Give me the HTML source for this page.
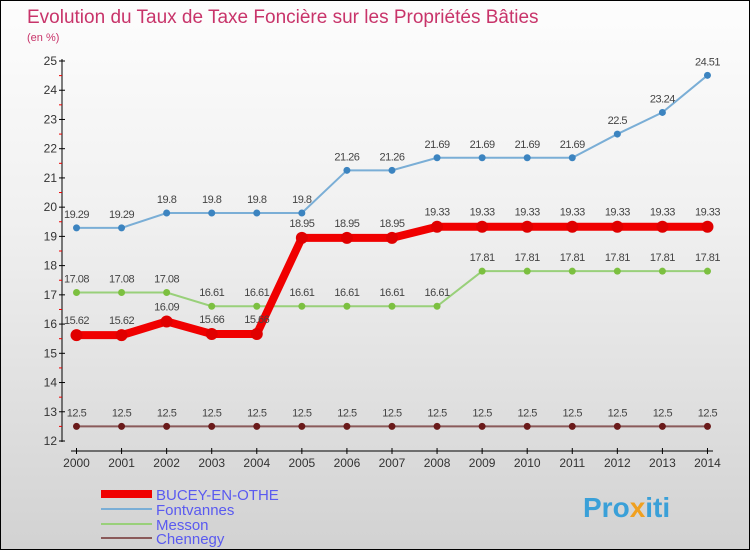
<!DOCTYPE html>
<html><head><meta charset="utf-8"><style>
body{margin:0}
#wrap{width:750px;height:550px;position:relative;box-sizing:border-box;border:1px solid #000;background:linear-gradient(#fdfdfd,#f0f0f0 40%,#d2d2d2);font-family:"Liberation Sans",sans-serif;overflow:hidden}
svg{position:absolute;left:0;top:0}
</style></head><body>
<div id="wrap">
<svg id="s" width="750" height="550">
<text x="26" y="22" font-size="19" fill="#c8346a">Evolution du Taux de Taxe Foncière sur les Propriétés Bâties</text>
<text x="26" y="40" font-size="11" fill="#c8346a">(en %)</text>
<text x="582" y="516" font-size="28" font-weight="bold" fill="#3aa0d8">Pro<tspan fill="#f0a020">x</tspan>iti</text>
</svg>
</div>
<script>
const years=[2000,2001,2002,2003,2004,2005,2006,2007,2008,2009,2010,2011,2012,2013,2014];
const bucey=[15.62,15.62,16.09,15.66,15.66,18.95,18.95,18.95,19.33,19.33,19.33,19.33,19.33,19.33,19.33];
const fontvannes=[19.29,19.29,19.8,19.8,19.8,19.8,21.26,21.26,21.69,21.69,21.69,21.69,22.5,23.24,24.51];
const messon=[17.08,17.08,17.08,16.61,16.61,16.61,16.61,16.61,16.61,17.81,17.81,17.81,17.81,17.81,17.81];
const chennegy=[12.5,12.5,12.5,12.5,12.5,12.5,12.5,12.5,12.5,12.5,12.5,12.5,12.5,12.5,12.5];
const yTicks=[12,13,14,15,16,17,18,19,20,21,22,23,24,25];
const names=["BUCEY-EN-OTHE","Fontvannes","Messon","Chennegy"];
const NS="http://www.w3.org/2000/svg",s=document.getElementById('s');
const X=i=>75.5+i*45.07, Y=v=>440-(v-12)*(380/13);
function mk(t,a,p){const e=document.createElementNS(NS,t);for(const k in a)e.setAttribute(k,a[k]);(p||s).appendChild(e);return e;}
// y axis
let ax=mk('line',{x1:61,y1:58,x2:61,y2:441,stroke:'#000'});


yTicks.forEach(v=>{mk('line',{x1:58,x2:64,y1:Y(v),y2:Y(v),stroke:'#000'});
 if(v<25)mk('line',{x1:58,x2:61,y1:Y(v+0.5),y2:Y(v+0.5),stroke:'#e00'});
 const t=mk('text',{x:56,y:Y(v)+4,'font-size':12,fill:'#333','text-anchor':'end'});t.textContent=v;
 
 });
let xa=mk('line',{x1:70,y1:450,x2:712,y2:450,stroke:'#000'});


years.forEach((y,i)=>{mk('line',{x1:X(i),x2:X(i),y1:447,y2:453,stroke:'#000'});
 const t=mk('text',{x:X(i),y:466,'font-size':12,fill:'#333','text-anchor':'middle'});t.textContent=y;
 
 });
function series(data,color,w,r,dot,name,lblOff){
 const g=mk('g',{});
 
 
 mk('polyline',{points:data.map((v,i)=>X(i)+','+Y(v)).join(' '),fill:'none',stroke:color,'stroke-width':w},g);
 data.forEach((v,i)=>{const c=mk('circle',{cx:X(i),cy:Y(v),r:r,fill:dot},g);
  
  
  const t=mk('text',{x:X(i),y:Y(v)+lblOff,'font-size':11,fill:'#444','text-anchor':'middle','letter-spacing':'-0.5'},g);t.textContent=v;});
}
series(chennegy,'#8a5a5a',2,3.5,'#6a1a1a','series-chennegy',-10);
series(messon,'#99d07a',2,3.5,'#7cc040','series-messon',-10);
series(fontvannes,'#7aaed6',2,3.5,'#3c84c0','series-fontvannes',-10);
series(bucey,'#f00000',8,6,'#e00000','series-bucey',-11);
const lc=['#f00000','#7aaed6','#99d07a','#8a5a5a'],lw=[8,2,2,2];
names.forEach((n,i)=>{const y=[493,508,523,537][i];
 const l=mk('line',{x1:100,x2:151,y1:y,y2:y,stroke:lc[i],'stroke-width':lw[i]});
 
 
 const t=mk('text',{x:155,y:y+6,'font-size':15,fill:'#5a5af0'});t.textContent=n;
 
 });
</script>
</body></html>
